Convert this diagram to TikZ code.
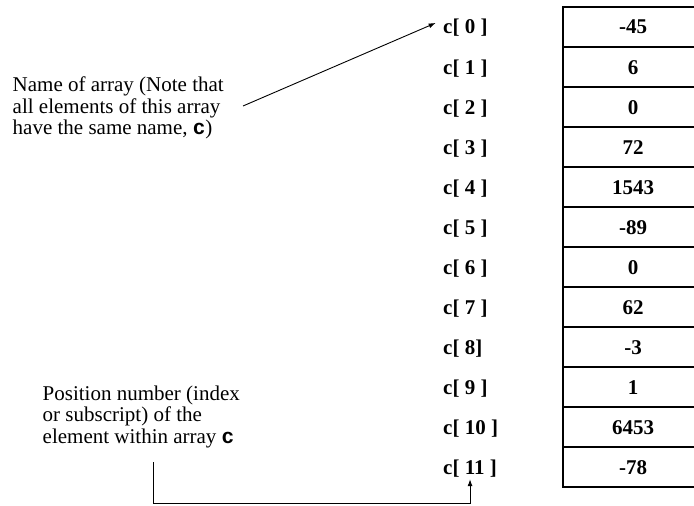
\documentclass[tikz,border=0pt]{standalone}
\usepackage{fontspec}
\setmainfont{Liberation Serif}
\newfontfamily\codefont{Liberation Mono}
\usetikzlibrary{arrows.meta}

\begin{document}
\begin{tikzpicture}[x=1pt,y=-1pt,
    cell/.style={draw,line width=2.6pt,minimum width=140pt,minimum height=40pt,inner sep=0pt,
        font=\fontsize{21}{24}\selectfont\bfseries,text height=14pt,text depth=0pt},
    idx/.style={anchor=west,inner sep=0pt,font=\fontsize{21}{24}\selectfont\bfseries,
        text height=14pt,text depth=0pt},
    note/.style={anchor=north west,inner sep=0pt,align=left,font=\fontsize{21}{21.7}\selectfont},
    pointer/.style={-{Latex[length=7pt,width=5pt]},line width=0.9pt}
]
\useasboundingbox (0,0) rectangle (694,506);
\clip (0,0) rectangle (694,506);

% the array and its subscripts
\foreach \lbl/\val [count=\i from 0] in {c[ 0 ]/-45,c[ 1 ]/6,c[ 2 ]/0,c[ 3 ]/72,c[ 4 ]/1543,
    c[ 5 ]/-89,c[ 6 ]/0,c[ 7 ]/62,c[ 8]/-3,c[ 9 ]/1,c[ 10 ]/6453,c[ 11 ]/-78}{
  \node[cell] (cell\i) at (633,{27+40*\i}) {\val};
  \node[idx]  (lbl\i)  at (443,{27+40*\i}) {\lbl};
}

% the two notes
\node[note] (namenote) at (12.5,76.5)
  {Name of array (Note that\\all elements of this array\\have the same name, {\codefont\bfseries c})};
\node[note] (posnote) at (42.5,385.5)
  {Position number (index\\or subscript) of the\\element within array {\codefont\bfseries c}};

\coordinate (namefoot) at (243,106);
\coordinate (posfoot)  at (153,462);
\coordinate (posbase)  at (0,503);

\draw[pointer,shorten >=8pt] (namefoot) -- (lbl0.north west);
\draw[pointer,shorten >=5pt] (posfoot) -- (posfoot |- posbase) -| (lbl11.south);
\end{tikzpicture}
\end{document}
